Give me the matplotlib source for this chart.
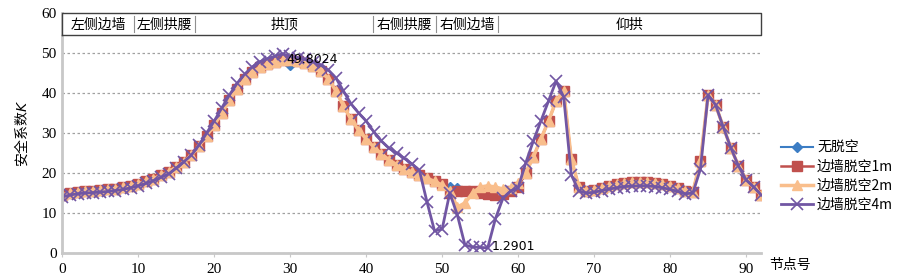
import matplotlib
matplotlib.use("Agg")
import matplotlib.pyplot as plt
import numpy as np

plt.rcParams['font.family'] = ['Noto Sans CJK SC', 'DejaVu Sans']

# 节点号 0..92
nodes = np.arange(93)

# 边墙脱空1m
k_1m = [14.5, 15.0, 15.3, 15.5, 15.6, 15.7, 15.9, 16.1, 16.4, 16.8,
        17.3, 17.9, 18.6, 19.4, 20.3, 21.5, 22.8, 24.5, 26.8, 29.3,
        32.0, 35.0, 38.2, 41.0, 43.4, 45.2, 46.4, 47.2, 47.8, 48.2,
        48.3, 48.0, 47.5, 46.7, 45.5, 43.6, 40.6, 36.8, 33.4, 30.7,
        28.5, 26.5, 24.8, 23.3, 22.1, 21.1, 20.3, 19.5, 18.7, 17.9,
        17.2, 15.0, 15.5, 15.5, 15.5, 15.0, 14.8, 14.5, 14.8, 15.6,
        16.5, 20.0, 24.0, 28.5, 33.0, 38.0, 40.5, 23.5, 16.5, 15.5,
        15.8, 16.3, 16.8, 17.2, 17.5, 17.7, 17.8, 17.8, 17.6, 17.3,
        16.8, 16.2, 15.6, 15.3, 23.0, 39.5, 37.0, 31.5, 26.3, 21.8,
        18.3, 16.5, 14.5]

# 无脱空 (differs from 1m only where visible)
k_0 = list(k_1m)
k_0[30] = 47.0
k_0[51:59] = [16.5, 16.3, 15.5, 15.3, 15.0, 15.0, 15.0, 15.3]

# 边墙脱空2m
k_2m = list(k_1m)
k_2m[50:62] = [17.0, 15.5, 11.5, 12.5, 15.0, 16.5, 16.8, 16.5, 16.0, 16.3, 17.5, 20.0]

# 边墙脱空4m
k_4m = [14.0, 14.5, 14.8, 15.0, 15.1, 15.2, 15.4, 15.6, 15.9, 16.3,
        16.8, 17.4, 18.1, 18.9, 19.8, 21.2, 22.8, 24.5, 27.0, 30.0,
        33.0, 36.3, 39.5, 42.4, 44.7, 46.5, 47.8, 48.6, 49.2, 49.8024,
        49.2, 48.8, 48.4, 47.8, 47.0, 45.8, 43.8, 40.5, 37.3, 35.0,
        33.0, 30.3, 28.0, 26.2, 25.0, 23.7, 22.3, 20.7, 12.8, 5.5,
        6.0, 15.0, 9.5, 2.0, 1.5, 1.4, 1.2901, 8.5, 13.7, 15.5,
        16.3, 22.5, 28.0, 33.0, 38.0, 43.0, 39.0, 19.5, 15.5, 15.0,
        15.2, 15.6, 16.0, 16.3, 16.6, 16.7, 16.8, 16.8, 16.6, 16.3,
        15.9, 15.4, 14.8, 15.0, 21.0, 39.5, 37.0, 31.5, 26.3, 21.8,
        18.3, 16.5, 14.5]

# 区段
region_names = ['左侧边墙', '左侧拱腰', '拱顶', '右侧拱腰', '右侧边墙', '仰拱']
region_edges = [0, 9.4, 17.5, 40.9, 49.2, 57.4, 92]

fig = plt.figure(figsize=(9.03, 2.8), dpi=100)
ax = fig.add_axes([0.069, 0.0964, 0.774, 0.8572])

ax.plot(nodes, k_0, color='#3C7DC4', lw=1.5, marker='D', ms=5.5, label='无脱空')
ax.plot(nodes, k_1m, color='#C0504D', lw=1.8, marker='s', ms=6.5, label='边墙脱空1m')
ax.plot(nodes, k_2m, color='#F9BE8C', lw=2.5, marker='^', ms=7.5, label='边墙脱空2m')
ax.plot(nodes, k_4m, color='#7156A3', lw=2.0, marker='x', ms=8, mew=1.2, label='边墙脱空4m')

# 极值标注
imax = int(np.argmax(k_4m))
imin = int(np.argmin(k_4m))
ax.annotate('%.4f' % k_4m[imax], (nodes[imax], k_4m[imax]), xytext=(3, -4),
            textcoords='offset points', fontsize=9, family='DejaVu Sans', va='center')
ax.annotate('%.4f' % k_4m[imin], (nodes[imin], k_4m[imin]), xytext=(3, 1),
            textcoords='offset points', fontsize=9, family='DejaVu Sans', va='center')

# 顶部区段框
band_lo, band_hi = 54.5, 60
ax.plot([0, 92, 92, 0, 0], [band_lo, band_lo, band_hi, band_hi, band_lo],
        color='#404040', lw=1.0, clip_on=False, zorder=5)
ax.fill_between([0, 92], band_lo, band_hi, color='white', zorder=4)
for e in region_edges[1:-1]:
    ax.plot([e, e], [55.2, 59.3], color='#909090', lw=0.8, zorder=5)
for i, name in enumerate(region_names):
    ax.text((region_edges[i] + region_edges[i + 1]) / 2, 57.1, name,
            ha='center', va='center', fontsize=10, zorder=6)

ax.set_xlim(0, 92)
ax.set_ylim(0, 60)
ax.set_xticks(range(0, 91, 10))
ax.set_yticks(range(0, 61, 10))
ax.yaxis.grid(True, ls=(0, (2, 2)), color='#A0A0A0', lw=0.9)
ax.set_axisbelow(True)
for s in ['top', 'right']:
    ax.spines[s].set_visible(False)
for s in ['left', 'bottom']:
    ax.spines[s].set_color('#C8C8C8')
    ax.spines[s].set_linewidth(2)
ax.tick_params(axis='x', length=3, color='#C8C8C8', labelsize=11, pad=4)
ax.tick_params(axis='y', length=0, labelsize=11, pad=4)
for lab in ax.get_xticklabels() + ax.get_yticklabels():
    lab.set_family('Liberation Serif')

ax.set_ylabel('安全系数$K$', fontsize=10, labelpad=8)
fig.text(0.875, 0.055, '节点号', fontsize=10, ha='center', va='center')

fig.legend(loc='center left', bbox_to_anchor=(0.851, 0.37), frameon=False,
           fontsize=10, handlelength=2.3, handletextpad=0.3, labelspacing=0.35)

fig.savefig('out.png', dpi=100)
